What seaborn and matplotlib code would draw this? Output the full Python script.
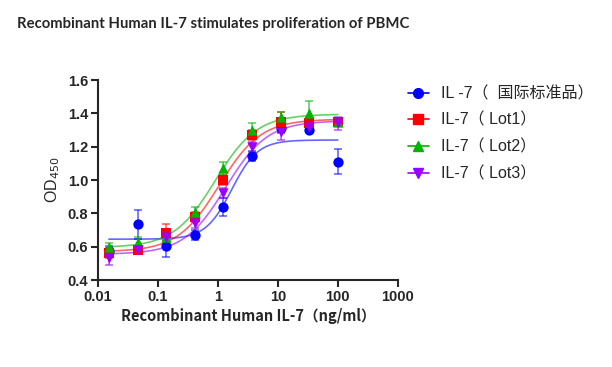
import numpy as np
import pandas as pd
import matplotlib
matplotlib.use("Agg")
import matplotlib.pyplot as plt
import seaborn as sns

# concentrations (ng/ml), 3-fold dilution series
conc = [0.01524, 0.04572, 0.1372, 0.4115, 1.235, 3.704, 11.11, 33.33, 100.0]

# mean OD450 per series
od_std = [0.576, 0.734, 0.606, 0.670, 0.840, 1.144, 1.310, 1.302, 1.110]
od_lot1 = [0.564, 0.580, 0.684, 0.780, 1.000, 1.268, 1.350, 1.340, 1.350]
od_lot2 = [0.600, 0.630, 0.660, 0.810, 1.070, 1.300, 1.380, 1.404, 1.350]
od_lot3 = [0.530, 0.580, 0.660, 0.740, 0.920, 1.200, 1.290, 1.320, 1.340]

# error bar half-widths
err_std = [0.030, 0.085, 0.065, 0.030, 0.055, 0.030, 0.030, 0.015, 0.075]
err_lot1 = [0.030, 0.020, 0.050, 0.030, 0.030, 0.030, 0.060, 0.020, 0.020]
err_lot2 = [0.020, 0.030, 0.030, 0.030, 0.040, 0.040, 0.030, 0.070, 0.020]
err_lot3 = [0.040, 0.020, 0.020, 0.030, 0.030, 0.030, 0.050, 0.020, 0.040]

# 4PL fit parameters: bottom, top, EC50, hill
fit_std = [0.645, 1.240, 1.70, 2.0]
fit_lot1 = [0.570, 1.365, 1.05, 1.25]
fit_lot2 = [0.595, 1.395, 0.90, 1.25]
fit_lot3 = [0.555, 1.355, 1.35, 1.25]

labels = ["IL -7（  国际标准品）", "IL-7（ Lot1）", "IL-7（ Lot2）", "IL-7（ Lot3）"]
colors = ["#0000ff", "#ff0000", "#00b400", "#9900ff"]
markers = ["o", "s", "^", "v"]


def four_pl(x, bottom, top, ec50, hill):
    return bottom + (top - bottom) / (1 + (ec50 / x) ** hill)


df = pd.concat([
    pd.DataFrame({"conc": conc, "od": od, "err": err, "series": lab})
    for od, err, lab in zip([od_std, od_lot1, od_lot2, od_lot3],
                            [err_std, err_lot1, err_lot2, err_lot3], labels)
])

sns.set_style("ticks")
plt.rcParams["font.family"] = ["Liberation Sans", "Noto Sans CJK SC", "DejaVu Sans"]

fig = plt.figure(figsize=(6.12, 3.67), dpi=100)
ax = fig.add_axes([0.160, 0.237, 0.490, 0.545])

xs = np.logspace(np.log10(conc[0]), np.log10(conc[-1]), 300)
for fit, col in zip([fit_std, fit_lot1, fit_lot2, fit_lot3], colors):
    sns.lineplot(x=xs, y=four_pl(xs, *fit), color=col, alpha=0.6, lw=1.2, ax=ax)

for lab, col, mk in zip(labels, colors, markers):
    sub = df[df["series"] == lab]
    ax.errorbar(sub["conc"], sub["od"], yerr=sub["err"], fmt="none",
                ecolor=col, alpha=0.6, elinewidth=1.2, capsize=3, capthick=1.2)
    sns.scatterplot(data=sub, x="conc", y="od", color=col, marker=mk, s=55,
                    edgecolor=col, linewidth=0, ax=ax, zorder=3)

ax.set_xscale("log")
ax.set_xlim(0.01, 1000)
ax.set_ylim(0.4, 1.6)
ax.set_xticks([0.01, 0.1, 1, 10, 100, 1000])
ax.set_xticklabels(["0.01", "0.1", "1", "10", "100", "1000"])
ax.minorticks_off()
ax.set_yticks(np.arange(0.4, 1.61, 0.2))
ax.set_yticklabels([f"{v:.1f}" for v in np.arange(0.4, 1.61, 0.2)])
for lbl in ax.get_xticklabels() + ax.get_yticklabels():
    lbl.set_fontweight("bold")
    lbl.set_fontsize(10.5)
ax.tick_params(axis="both", width=1.5, length=5, pad=2)
sns.despine(ax=ax)
for sp in ["left", "bottom"]:
    ax.spines[sp].set_linewidth(1.5)

ax.set_xlabel("Recombinant Human IL-7（ng/ml）", fontsize=10.5, fontweight="bold",
              family=["Noto Sans CJK SC", "DejaVu Sans"], labelpad=3)
ax.set_ylabel("OD$_{450}$", fontsize=11.5, labelpad=4)

handles = [
    plt.Line2D([], [], color=col, marker=mk, markersize=7, lw=1.2,
               markerfacecolor=col, markeredgecolor=col)
    for col, mk in zip(colors, markers)
]
leg = fig.legend(handles, labels, loc="upper left", bbox_to_anchor=(0.643, 0.805),
                 frameon=False, handlelength=1.3,
                 labelspacing=0.72, handletextpad=0.8,
                 prop={"family": ["Liberation Sans", "Noto Sans CJK SC"], "size": 11.5})
for h in leg.legend_handles:
    h.set_alpha(None)

fig.text(0.028, 0.925, "Recombinant Human IL-7 stimulates proliferation of PBMC",
         fontsize=10.7, fontweight="bold", family=["Lato", "DejaVu Sans"])

fig.savefig("out.png", dpi=100)
